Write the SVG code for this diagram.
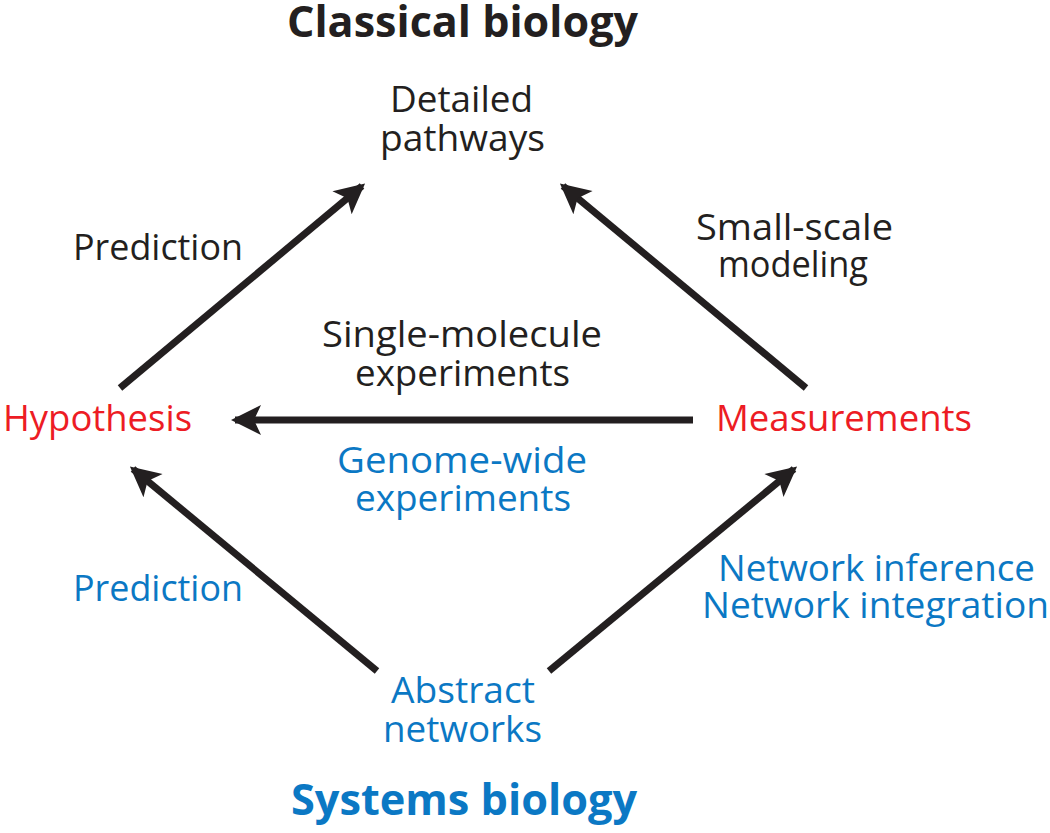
<svg xmlns="http://www.w3.org/2000/svg" width="1050" height="833" viewBox="0 0 1050 833">
<style>
text{font-family:"Open Sans","Noto Sans","Liberation Sans",sans-serif;font-size:36px}
.k{fill:#231f20}.r{fill:#ed1c24}.b{fill:#0b78c4}
.t{font-weight:bold;font-size:43px}
.c{stroke:#231f20;stroke-width:7;fill:none}
</style>
<defs>
<marker id="ah" markerUnits="userSpaceOnUse" markerWidth="40" markerHeight="40" viewBox="-30 -20 40 40" refX="0" refY="0" orient="auto">
<path d="M4,0 L-26,-15 L-19,0 L-26,15 Z" fill="#231f20"/>
</marker>
</defs>
<rect width="1050" height="833" fill="#fff"/>
<g id="connectors">
<line class="c" x1="120" y1="388" x2="362" y2="186" marker-end="url(#ah)"/>
<line class="c" x1="806" y1="388" x2="563" y2="186" marker-end="url(#ah)"/>
<line class="c" x1="693" y1="420" x2="235" y2="420" marker-end="url(#ah)"/>
<line class="c" x1="377" y1="671" x2="133" y2="469" marker-end="url(#ah)"/>
<line class="c" x1="549" y1="671" x2="794" y2="469" marker-end="url(#ah)"/>
</g>
<g id="title-classical"><text class="t k" x="287" y="37" textLength="351" lengthAdjust="spacingAndGlyphs">Classical biology</text></g>
<g id="node-pathways"><text class="k" x="390" y="112" textLength="143" lengthAdjust="spacingAndGlyphs">Detailed</text><text class="k" x="380" y="151" textLength="165" lengthAdjust="spacingAndGlyphs">pathways</text></g>
<g id="label-prediction-top"><text class="k" x="73" y="260" textLength="170" lengthAdjust="spacingAndGlyphs">Prediction</text></g>
<g id="label-smallscale"><text class="k" x="696" y="240" textLength="197" lengthAdjust="spacingAndGlyphs">Small-scale</text><text class="k" x="718" y="277" textLength="150" lengthAdjust="spacingAndGlyphs">modeling</text></g>
<g id="label-single"><text class="k" x="322" y="347" textLength="280" lengthAdjust="spacingAndGlyphs">Single-molecule</text><text class="k" x="355" y="386" textLength="215" lengthAdjust="spacingAndGlyphs">experiments</text></g>
<g id="node-hypothesis"><text class="r" x="3" y="431" textLength="189" lengthAdjust="spacingAndGlyphs">Hypothesis</text></g>
<g id="node-measurements"><text class="r" x="716" y="431" textLength="256" lengthAdjust="spacingAndGlyphs">Measurements</text></g>
<g id="label-genome"><text class="b" x="337" y="473" textLength="250" lengthAdjust="spacingAndGlyphs">Genome-wide</text><text class="b" x="355" y="511" textLength="216" lengthAdjust="spacingAndGlyphs">experiments</text></g>
<g id="label-prediction-bottom"><text class="b" x="73" y="601" textLength="170" lengthAdjust="spacingAndGlyphs">Prediction</text></g>
<g id="label-network"><text class="b" x="718" y="581" textLength="317" lengthAdjust="spacingAndGlyphs">Network inference</text><text class="b" x="702" y="618" textLength="347" lengthAdjust="spacingAndGlyphs">Network integration</text></g>
<g id="node-abstract"><text class="b" x="391" y="703" textLength="144" lengthAdjust="spacingAndGlyphs">Abstract</text><text class="b" x="383" y="742" textLength="159" lengthAdjust="spacingAndGlyphs">networks</text></g>
<g id="title-systems"><text class="t b" x="291" y="815" textLength="346" lengthAdjust="spacingAndGlyphs">Systems biology</text></g>
</svg>
